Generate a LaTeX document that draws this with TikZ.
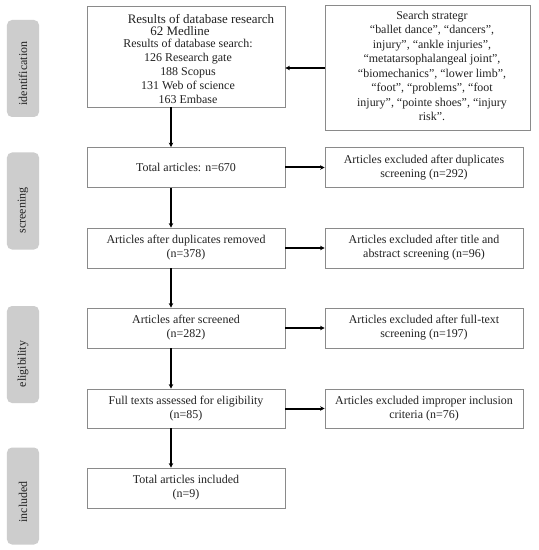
\documentclass[tikz,border=0pt]{standalone}
\usepackage{fontspec}
\setmainfont{Liberation Serif}
\usetikzlibrary{arrows.meta}
\definecolor{boxline}{HTML}{8A8A8A}
\definecolor{sidefill}{HTML}{CDCDCD}
\definecolor{txt}{HTML}{222222}
\begin{document}
\begin{tikzpicture}[x=1bp,y=-1bp,
  flowbox/.style={draw=boxline,line width=0.8bp,rectangle,inner sep=0pt,
    minimum width=198bp,minimum height=40bp,align=center,text=txt,
    font=\fontsize{12}{14}\selectfont},
  sidebox/.style={fill=sidefill,rounded corners=5bp,draw=none,
    minimum width=32bp,minimum height=97bp,inner sep=0pt},
  sidetxt/.style={rotate=90,text=txt,font=\fontsize{12}{14}\selectfont,inner sep=0pt},
  plain/.style={inner sep=0pt,text=txt,align=center},
  flowarrow/.style={line width=2bp,-{Stealth[length=4.5bp,width=4.5bp]}}
]
\useasboundingbox (0,0) rectangle (539,550);
\fill[white] (0,0) rectangle (539,550);

% side labels
\node[sidebox] (sb1) at (23,68.5) {};
\node[sidetxt] (st1) at (23,73.5) {identification};
\node[sidebox] (sb2) at (23,201) {};
\node[sidetxt] (st2) at (23,210.5) {screening};
\node[sidebox] (sb3) at (23,354.5) {};
\node[sidetxt] (st3) at (23,364) {eligibility};
\node[sidebox] (sb4) at (23,496) {};
\node[sidetxt] (st4) at (23,502) {included};

% box 1
\node[flowbox,minimum height=101bp] (b1) at (186,56.5) {};
\node[plain,font=\fontsize{13}{14}\selectfont,text depth=0pt,anchor=base] (b1t) at (201,24) {Results of database research};
\node[plain,font=\fontsize{13}{14}\selectfont,text depth=0pt,text height=7bp,anchor=base] (b1m) at (180,36) {62 Medline};
\node[plain,font=\fontsize{12}{14.1}\selectfont] (b1l) at (188,71) {Results of database search:\\126 Research gate\\188 Scopus\\131 Web of science\\163 Embase};

% search strategy box
\node[flowbox,minimum width=205bp,minimum height=125bp] (ss) at (427.5,67.5) {};
\node[plain,font=\fontsize{12}{14.57}\selectfont] (sst) at (432,66) {Search strategr\\“ballet dance”, “dancers”,\\injury”, “ankle injuries”,\\“metatarsophalangeal joint”,\\“biomechanics”, “lower limb”,\\“foot”, “problems”, “foot\\injury”, “pointe shoes”, “injury\\risk”.};

% left column
\node[flowbox] (b2) at (186,167.5) {Total articles: n=670};
\node[flowbox] (b3) at (186,248) {Articles after duplicates removed\\(n=378)};
\node[flowbox] (b4) at (186,328) {Articles after screened\\(n=282)};
\node[flowbox,minimum height=39bp] (b5) at (186,408.5) {Full texts assessed for eligibility\\(n=85)};
\node[flowbox] (b6) at (186,488) {Total articles included\\(n=9)};

% right column
\node[flowbox] (e1) at (424,167.5) {Articles excluded after duplicates\\screening (n=292)};
\node[flowbox] (e2) at (424,248) {Articles excluded after title and\\abstract screening (n=96)};
\node[flowbox] (e3) at (424,328) {Articles excluded after full-text\\screening (n=197)};
\node[flowbox,minimum height=39bp] (e4) at (424,408.5) {Articles excluded improper inclusion\\criteria (n=76)};

% arrows
\draw[flowarrow] (ss.west |- 0,68) -- (b1.east |- 0,68);
\draw[flowarrow] (b1.south -| 171,0) -- (b2.north -| 171,0);
\draw[flowarrow] (b2.south -| 171,0) -- (b3.north -| 171,0);
\draw[flowarrow] (b3.south -| 171,0) -- (b4.north -| 171,0);
\draw[flowarrow] (b4.south -| 171,0) -- (b5.north -| 171,0);
\draw[flowarrow] (b5.south -| 171,0) -- (b6.north -| 171,0);
\draw[flowarrow] (b2.east) -- (e1.west);
\draw[flowarrow] (b3.east) -- (e2.west);
\draw[flowarrow] (b4.east) -- (e3.west);
\draw[flowarrow] (b5.east) -- (e4.west);
\end{tikzpicture}
\end{document}
